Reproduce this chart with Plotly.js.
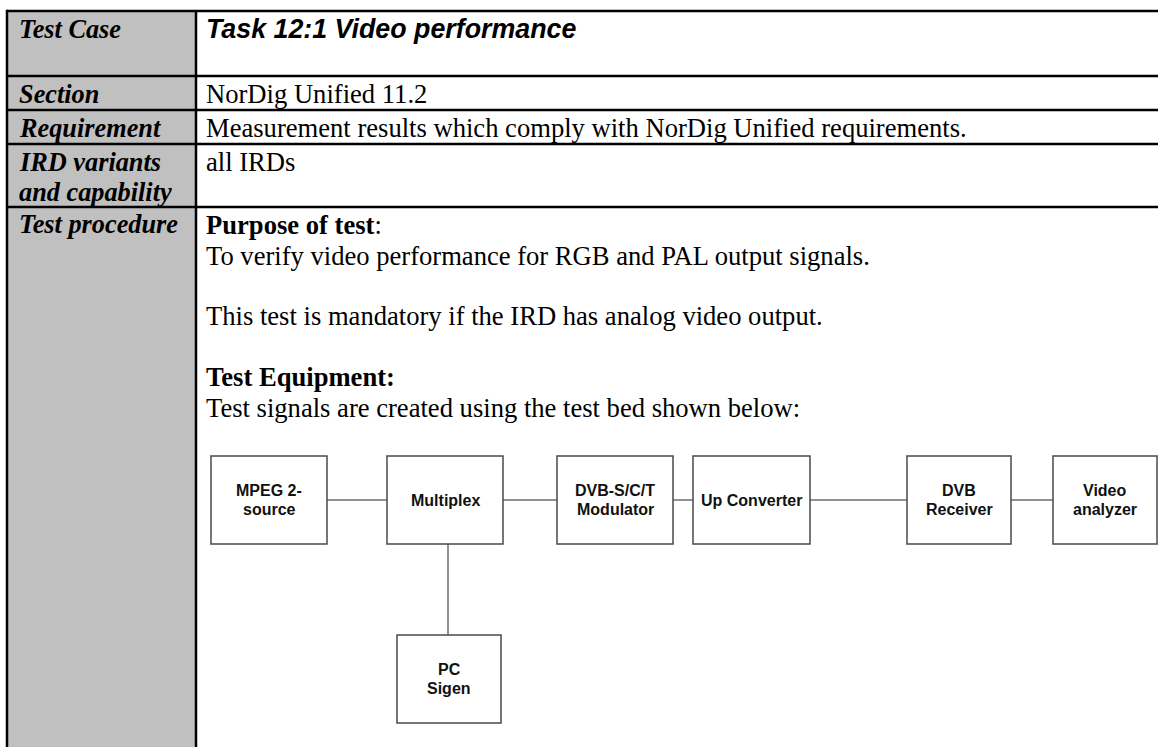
<!DOCTYPE html>
<html>
<head>
<meta charset="utf-8">
<script src="https://cdn.plot.ly/plotly-3.0.1.min.js"></script>
<style>html,body{margin:0;padding:0;background:#fff;overflow:hidden}#chart{width:1158px;height:747px}</style>
</head>
<body>
<div id="chart"></div>
<script>
// ---- content ----
var rowLabels = [["Test Case"], ["Section"], ["Requirement"], ["IRD variants", "and capability"], ["Test procedure"]];
var rowValues = [
  ["Task 12:1 Video performance"],
  ["NorDig Unified 11.2"],
  ["Measurement results which comply with NorDig Unified requirements."],
  ["all IRDs"],
  ["<b>Purpose of test</b>:", "To verify video performance for RGB and PAL output signals.", "",
   "This test is mandatory if the IRD has analog video output.", "",
   "<b>Test Equipment:</b>", "Test signals are created using the test bed shown below:"]
];
var boxNames = [["MPEG 2-", "source"], ["Multiplex"], ["DVB-S/C/T", "Modulator"], ["Up Converter"],
                ["DVB", "Receiver"], ["Video", "analyzer"], ["PC", "Sigen"]];
var links = [[0, 1], [1, 2], [2, 3], [3, 4], [4, 5], [1, 6]];

// ---- layout geometry (pixels) ----
var W = 1158, H = 747;
var G = {
  left: 7, top: 11, divider: 196,
  rowLines: [76, 110, 144, 207],
  textX0: 18, textX1: 205,
  firstLineOffset: 18, linePitch: 30.5,
  boxes: [[211, 327, 456, 544], [387, 503, 456, 544], [557, 673, 456, 544], [693, 810, 456, 544],
          [907, 1011, 456, 544], [1053, 1157, 456, 544], [397, 501, 635, 723]]
};
function px(x) { return x / W; }
function py(y) { return 1 - y / H; }

var shapes = [], annotations = [];
// gray first column
shapes.push({type: 'rect', xref: 'paper', yref: 'paper', x0: px(G.left), x1: px(G.divider), y0: py(G.top), y1: py(H + 5),
  fillcolor: '#c0c0c0', line: {width: 0}, layer: 'below'});
var black = {color: '#000', width: 2.5};
shapes.push({type: 'line', xref: 'paper', yref: 'paper', x0: px(G.left), x1: px(W + 5), y0: py(G.top), y1: py(G.top), line: black});
G.rowLines.forEach(function (y) {
  shapes.push({type: 'line', xref: 'paper', yref: 'paper', x0: px(G.left), x1: px(W + 5), y0: py(y), y1: py(y), line: black});
});
shapes.push({type: 'line', xref: 'paper', yref: 'paper', x0: px(G.left), x1: px(G.left), y0: py(G.top - 1.2), y1: py(H + 5), line: black});
shapes.push({type: 'line', xref: 'paper', yref: 'paper', x0: px(G.divider), x1: px(G.divider), y0: py(G.top), y1: py(H + 5), line: black});

var rowTops = [G.top].concat(G.rowLines);
var serif = 'Liberation Serif, Times New Roman, serif';
var sans = 'Liberation Sans, Arial, sans-serif';
function addText(t, x, y, font, anchor) {
  annotations.push({text: t, xref: 'paper', yref: 'paper', x: px(x), y: py(y), xanchor: anchor || 'left', yanchor: 'middle',
    showarrow: false, font: font, borderpad: 0});
}
rowLabels.forEach(function (lines, i) {
  lines.forEach(function (t, j) {
    addText('<b><i>' + t + '</i></b>', G.textX0, rowTops[i] + G.firstLineOffset + j * G.linePitch, {family: serif, size: 26.3, color: '#000'});
  });
});
rowValues.forEach(function (lines, i) {
  lines.forEach(function (t, j) {
    if (!t) return;
    var f = i === 0 ? {family: sans, size: 26.8, color: '#000'} : {family: serif, size: 26.6, color: '#000'};
    var txt = i === 0 ? '<b><i>' + t + '</i></b>' : t;
    addText(txt, G.textX1, rowTops[i] + G.firstLineOffset + j * G.linePitch, f);
  });
});

// diagram
var boxLine = {color: '#4a4a4a', width: 1.5};
var linkLine = {color: '#6e6e6e', width: 1.5};
links.forEach(function (l) {
  var a = G.boxes[l[0]], b = G.boxes[l[1]];
  if (b[2] === a[2]) {
    var yc = (a[2] + a[3]) / 2;
    shapes.push({type: 'line', xref: 'paper', yref: 'paper', x0: px(a[1]), x1: px(b[0]), y0: py(yc), y1: py(yc), line: linkLine});
  } else {
    var xc = (a[0] + a[1]) / 2 + 3;
    shapes.push({type: 'line', xref: 'paper', yref: 'paper', x0: px(xc), x1: px(xc), y0: py(a[3]), y1: py(b[2]), line: linkLine});
  }
});
boxNames.forEach(function (lines, i) {
  var b = G.boxes[i];
  shapes.push({type: 'rect', xref: 'paper', yref: 'paper', x0: px(b[0]), x1: px(b[1]), y0: py(b[2]), y1: py(b[3]),
    fillcolor: '#fff', line: boxLine});
  var cx = (b[0] + b[1]) / 2, cy = (b[2] + b[3]) / 2, pitch = 19;
  lines.forEach(function (t, j) {
    var y = cy + (j - (lines.length - 1) / 2) * pitch;
    addText('<b>' + t + '</b>', cx, y, {family: sans, size: 16, color: '#111'}, 'center');
  });
});

var layout = {
  width: W, height: H, margin: {l: 0, r: 0, t: 0, b: 0, pad: 0},
  paper_bgcolor: '#fff', plot_bgcolor: '#fff', showlegend: false,
  xaxis: {visible: false, range: [0, W], fixedrange: true},
  yaxis: {visible: false, range: [H, 0], fixedrange: true},
  shapes: shapes, annotations: annotations
};
Plotly.newPlot('chart', [{type: 'scatter', x: [], y: [], hoverinfo: 'skip'}], layout, {staticPlot: true, displayModeBar: false});
</script>
</body>
</html>
